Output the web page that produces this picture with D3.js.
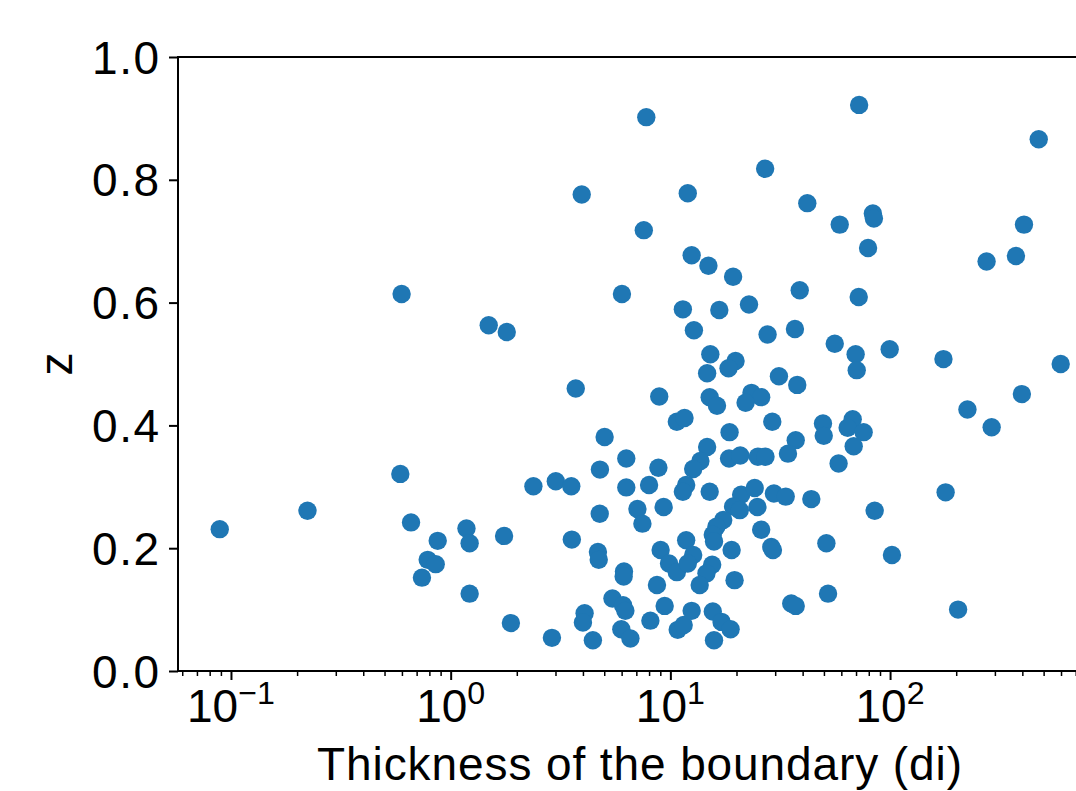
<!DOCTYPE html>
<html><head><meta charset="utf-8">
<script src="https://cdn.jsdelivr.net/npm/d3@7"></script>
<style>
body{margin:0;background:#fff}
text{font-family:"Liberation Sans",Arial,Helvetica,sans-serif;fill:#000}
</style>
</head><body>
<svg id="chart" width="1076" height="791"></svg>
<script>
// ---- data ----
const thickness = [
 0.0889,0.223,0.598,0.590,0.660,0.873,1.18,1.22,1.75,3.56,0.786,0.855,0.740,1.22,1.88,2.89,1.49,1.80,3.71,2.38,3.01,3.54,
 8.9,10.7,11.6,5.02,6.30,4.78,8.82,6.30,8.00,7.08,7.46,9.32,4.77,4.68,4.72,6.15,6.13,5.45,6.09,6.24,4.07,4.00,4.44,5.98,6.58,8.11,8.69,9.42,9.03,9.86,10.7,10.8,11.5,
 12.5,14.9,19.3,6.02,38.8,11.4,16.7,22.8,12.8,27.7,36.9,56.0,15.2,19.8,18.4,14.7,31.2,37.8,15.1,16.3,23.4,25.9,22.0,
 29.1,49.5,49.9,18.6,37.2,34.3,14.7,13.7,12.7,18.5,20.8,25.0,27.1,11.8,11.4,15.1,21.0,24.2,19.3,20.7,24.9,29.6,33.5,43.8,
 17.4,16.2,15.6,15.8,11.8,12.7,12.0,19.0,25.9,28.8,29.3,15.5,14.6,13.6,19.6,51.3,52.2,35.5,37.2,12.5,15.6,17.1,18.8,15.8,58.3,
 7.77,72.3,475,3.95,12.0,27.0,7.57,42.0,59.0,83.5,84.4,79.4,407,275,374,398,225,290,179,102,204,598,175,99.6,72.0,69.7,70.5,67.6,64.1,75.8,68.3,85.1
];
const zValues = [
 0.231,0.261,0.614,0.321,0.242,0.212,0.232,0.208,0.220,0.214,0.181,0.174,0.152,0.126,0.078,0.054,0.563,0.552,0.460,0.301,0.309,0.301,
 0.447,0.406,0.412,0.381,0.346,0.328,0.331,0.299,0.303,0.264,0.240,0.267,0.256,0.194,0.181,0.162,0.154,0.118,0.107,0.098,0.094,0.079,0.050,0.068,0.053,0.082,0.140,0.106,0.197,0.175,0.161,0.067,0.075,
 0.677,0.660,0.642,0.614,0.620,0.589,0.588,0.597,0.555,0.548,0.557,0.533,0.516,0.505,0.493,0.485,0.480,0.466,0.446,0.432,0.453,0.446,0.437,
 0.406,0.403,0.383,0.389,0.376,0.354,0.365,0.342,0.329,0.346,0.351,0.349,0.349,0.303,0.292,0.292,0.287,0.298,0.268,0.262,0.267,0.289,0.284,0.280,
 0.246,0.235,0.222,0.211,0.213,0.189,0.175,0.197,0.230,0.202,0.197,0.173,0.159,0.140,0.148,0.208,0.126,0.110,0.106,0.098,0.097,0.080,0.068,0.050,0.338,
 0.902,0.922,0.866,0.776,0.778,0.818,0.718,0.762,0.727,0.745,0.737,0.689,0.727,0.667,0.676,0.451,0.426,0.397,0.291,0.189,0.100,0.500,0.508,0.524,0.609,0.516,0.490,0.410,0.396,0.389,0.366,0.261
];
const yTickValues = [0.0, 0.2, 0.4, 0.6, 0.8, 1.0];
const xTickExponents = [-1, 0, 1, 2];
const xDomain = [0.0574, 1000];
const yDomain = [0, 1];
const xLabel = "Thickness of the boundary (di)";
const yLabel = "z";

// ---- layout ----
const plotLeft = 178, plotTop = 57, plotBottom = 671;
const decadePx = 219.7;
const plotRight = plotLeft + decadePx * Math.log10(xDomain[1] / xDomain[0]);
const fs = 46;
const color = "#1f77b4";

const svg = d3.select("#chart");
const x = d3.scaleLog().domain(xDomain).range([plotLeft, plotRight]);
const y = d3.scaleLinear().domain(yDomain).range([plotBottom, plotTop]);

const data = thickness.map((t, i) => ({t, z: zValues[i]}));

// points
svg.append("g").selectAll("circle").data(data).join("circle")
  .attr("cx", d => x(d.t)).attr("cy", d => y(d.z)).attr("r", 9.2)
  .attr("fill", color);

// top spine
svg.append("line").attr("x1", plotLeft - 1).attr("x2", plotRight).attr("y1", plotTop).attr("y2", plotTop)
  .attr("stroke", "#000").attr("stroke-width", 2);

// y axis
const yAxis = d3.axisLeft(y).tickValues(yTickValues).tickFormat(d3.format(".1f"))
  .tickSizeInner(9).tickSizeOuter(0).tickPadding(10);
const gy = svg.append("g").attr("transform", `translate(${plotLeft},0)`).call(yAxis);
gy.select(".domain").attr("stroke-width", 2).attr("d", `M0,${plotBottom + 1}V${plotTop - 1}`);
gy.selectAll(".tick line").attr("stroke-width", 2);
gy.selectAll(".tick text").attr("font-size", fs).attr("dy", "0.35em")
  .attr("letter-spacing", 1.5).attr("dx", 1.5);
gy.attr("font-family", null);

// x axis major
const majorVals = xTickExponents.map(e => Math.pow(10, e));
const xAxis = d3.axisBottom(x).tickValues(majorVals).tickFormat(() => "")
  .tickSizeInner(9).tickSizeOuter(0);
const gx = svg.append("g").attr("transform", `translate(0,${plotBottom})`).call(xAxis);
gx.select(".domain").attr("stroke-width", 2).attr("d", `M${plotLeft - 1},0H${plotRight}`);
gx.selectAll(".tick line").attr("stroke-width", 2);

// minor ticks
const minorVals = [];
for (let e = -2; e <= 3; e++) for (let m = 2; m <= 9; m++) {
  const v = m * Math.pow(10, e);
  if (v >= xDomain[0] && v <= xDomain[1]) minorVals.push(v);
}
const xMinor = d3.axisBottom(x).tickValues(minorVals).tickFormat(() => "")
  .tickSizeInner(5).tickSizeOuter(0);
const gm = svg.append("g").attr("transform", `translate(0,${plotBottom})`).call(xMinor);
gm.select(".domain").remove();
gm.selectAll(".tick line").attr("stroke-width", 1.5);

// x tick labels with superscript
const lab = svg.append("g");
xTickExponents.forEach(e => {
  const t = lab.append("text").attr("x", x(Math.pow(10, e))).attr("y", 722)
    .attr("text-anchor", "middle").attr("font-size", fs);
  t.append("tspan").text("10");
  t.append("tspan").attr("font-size", fs * 0.7).attr("dy", -18)
    .text(e < 0 ? "\u2212" + Math.abs(e) : String(e));
});

// axis labels
svg.append("text").attr("x", 640).attr("y", 780)
  .attr("text-anchor", "middle").attr("font-size", fs).attr("letter-spacing", 0.9).text(xLabel);
svg.append("text").attr("transform", `translate(72,${(plotTop + plotBottom) / 2}) rotate(-90)`)
  .attr("text-anchor", "middle").attr("font-size", fs).text(yLabel);
</script>
</body></html>
